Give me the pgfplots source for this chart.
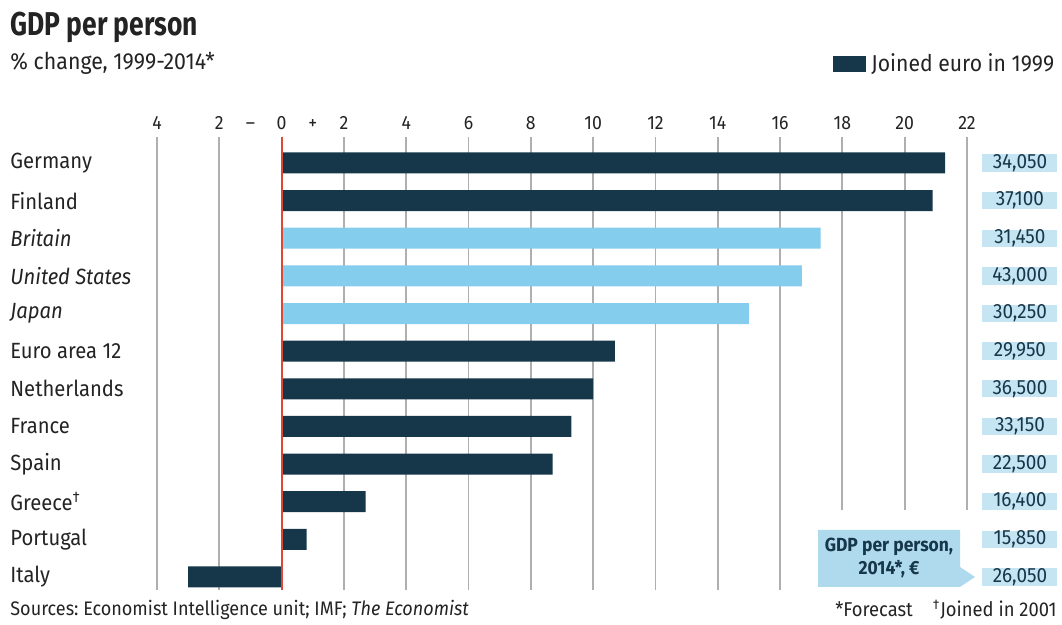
\documentclass[border=0pt]{standalone}
\usepackage{fontspec}
\setmainfont[FakeStretch=0.92]{Fira Sans}
\newfontfamily\titlefont[FakeStretch=0.8]{Fira Sans}
\usepackage{pgfplots}
\pgfplotsset{compat=1.18}
\frenchspacing
\definecolor{navy}{RGB}{22,54,74}
\definecolor{lblue}{RGB}{132,205,236}
\definecolor{vbox}{RGB}{197,229,243}
\definecolor{cbox}{RGB}{175,218,238}
\definecolor{gridg}{RGB}{175,175,175}
\definecolor{zred}{RGB}{222,72,50}
\definecolor{txt}{RGB}{35,35,35}
\pgfplotstableread{
x y lab
23.70 12 34,050
23.70 11 37,100
23.70 10 31,450
23.70 9 43,000
23.70 8 30,250
23.70 7 29,950
23.70 6 36,500
23.70 5 33,150
23.70 4 22,500
23.70 3 16,400
23.70 2 15,850
23.70 1 26,050
}\valuetable
\begin{document}
\frenchspacing
\begin{tikzpicture}
\begin{scope}[x=0.5pt,y=-0.5pt,shift={(0pt,312.5pt)}]
\path[use as bounding box] (0,0) rectangle (1062,625);
\end{scope}
\begin{axis}[
  at={(78.5pt,17.5pt)}, anchor=south west,
  scale only axis, width=405pt, height=226.5pt,
  xmin=-4, xmax=22, ymin=0.654, ymax=12.69,
  clip=false,
  axis line style={draw=none},
  major tick length=0pt,
  xtick={-4,-2,...,22},
  xticklabels={4,2,0,2,4,6,8,10,12,14,16,18,20,22},
  xticklabel pos=upper,
  xticklabel style={font=\fontsize{9.6}{10}\selectfont, text=txt},
  xmajorgrids,
  grid style={gridg, line width=0.9pt},
  extra x ticks={-1,1},
  extra x tick labels={–,+},
  extra x tick style={grid=none, xticklabel pos=upper},
  ytick={1,...,12},
  yticklabels={Italy,Portugal,{Greece\textsuperscript{\textdagger}},Spain,France,Netherlands,Euro area 12,\textit{Japan},\textit{United States},\textit{Britain},Finland,Germany},
  yticklabel style={anchor=west, xshift=-73.5pt, inner sep=0pt, font=\fontsize{11}{12}\selectfont, text=txt},
]
\addplot[xbar, bar width=10.5pt, bar shift=0pt, fill=navy, draw=none]
  coordinates {(21.3,12) (20.9,11) (10.7,7) (10.0,6) (9.3,5) (8.7,4) (2.7,3) (0.8,2) (-3.0,1)};
\addplot[xbar, bar width=10.5pt, bar shift=0pt, fill=lblue, draw=none]
  coordinates {(17.3,10) (16.7,9) (15.0,8)};
\draw[zred, line width=1pt] (axis cs:0,0.654) -- (axis cs:0,12.69);
\addplot[draw=none, mark=none, nodes near coords, point meta=explicit symbolic,
  nodes near coords align=center,
  every node near coord/.style={fill=vbox, text=navy, minimum width=37.5pt, minimum height=8.5pt, inner sep=0pt, font=\fontsize{10.3}{10}\selectfont}]
  table[x=x, y=y, meta=lab] {\valuetable};
\end{axis}
\begin{scope}[x=0.5pt,y=-0.5pt,shift={(0pt,312.5pt)}]
\node[anchor=west, inner sep=0pt, text=txt] at (10,27) {\titlefont\bfseries\fontsize{16.5}{18}\selectfont GDP per person};
\node[anchor=west, inner sep=0pt, text=txt] at (10,63) {\fontsize{11.6}{13}\selectfont \% change, 1999-2014*};
\fill[navy] (833,56) rectangle (866,72);
\node[anchor=west, inner sep=0pt, text=txt] at (871,64) {\fontsize{11.5}{13}\selectfont Joined euro in 1999};
\fill[white] (808,510) rectangle (978,593);
\fill[cbox] (818,530) -- (960,530) -- (960,567) -- (975,577) -- (960,587) -- (818,587) -- cycle;
\node[align=center, text=navy, inner sep=0pt, font=\bfseries\fontsize{9.5}{11.5}\selectfont] at (889,558) {GDP per person,\\2014*, €};
\node[anchor=west, inner sep=0pt, text=txt] at (10,610) {\fontsize{9.8}{12}\selectfont Sources: Economist Intelligence unit; IMF; \textit{The Economist}};
\node[anchor=east, inner sep=0pt, text=txt] at (1057,610) {\fontsize{10}{12}\selectfont *Forecast\quad\textsuperscript{\textdagger}Joined in 2001};
\end{scope}
\end{tikzpicture}
\end{document}
